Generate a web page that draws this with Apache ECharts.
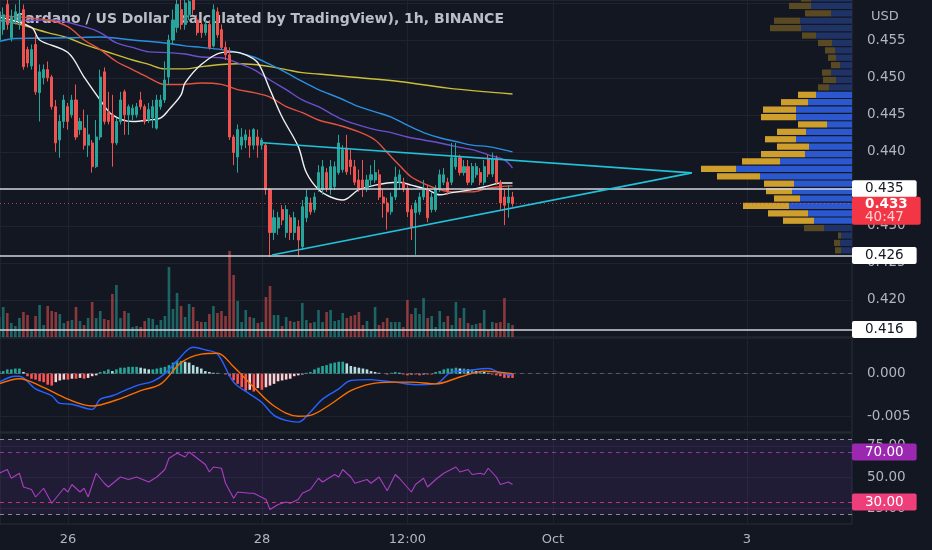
<!DOCTYPE html>
<html>
<head>
<meta charset="utf-8">
<title>ADAUSD 1h</title>
<script src="https://cdn.jsdelivr.net/npm/echarts@6/dist/echarts.min.js"></script>
<style>
    html, body { margin: 0; padding: 0; background: #131722; }
    #chart { width: 932px; height: 550px; }
</style>
</head>
<body>
<div id="chart"></div>
<script>
    //x is hours from 26 Sep 00:00
    var timeTicks = [0, 48, 84, 120, 168];
    var timeLabels = ['26', '28', '12:00', 'Oct', '3'];

    //[hour, open, close, low, high]
    var candles = [
        [-17, 0.4551, 0.4589, 0.4545, 0.4599], [-16, 0.4565, 0.4585, 0.4558, 0.4595], [-15, 0.4599, 0.4572, 0.4565, 0.4605],
        [-14, 0.4554, 0.4582, 0.4549, 0.4592], [-13, 0.4578, 0.4589, 0.4572, 0.4599], [-12, 0.4576, 0.4585, 0.4565, 0.4605],
        [-11, 0.4592, 0.4515, 0.4511, 0.4599], [-10, 0.4538, 0.4520, 0.4514, 0.4542], [-9, 0.4516, 0.4538, 0.4511, 0.4545],
        [-8, 0.4545, 0.4481, 0.4477, 0.4558], [-7, 0.4480, 0.4508, 0.4441, 0.4518], [-6, 0.4500, 0.4511, 0.4491, 0.4518],
        [-5, 0.4511, 0.4500, 0.4495, 0.4522], [-4, 0.4501, 0.4461, 0.4457, 0.4504], [-3, 0.4461, 0.4412, 0.4400, 0.4470],
        [-2, 0.4416, 0.4441, 0.4392, 0.4450], [-1, 0.4441, 0.4470, 0.4432, 0.4477], [0, 0.4461, 0.4441, 0.4430, 0.4466],
        [1, 0.4450, 0.4470, 0.4446, 0.4477], [2, 0.4470, 0.4420, 0.4416, 0.4491], [3, 0.4430, 0.4441, 0.4423, 0.4446],
        [4, 0.4432, 0.4409, 0.4403, 0.4457], [5, 0.4409, 0.4423, 0.4393, 0.4450], [6, 0.4412, 0.4380, 0.4372, 0.4416],
        [7, 0.4380, 0.4420, 0.4378, 0.4443], [8, 0.4420, 0.4501, 0.4416, 0.4511], [9, 0.4508, 0.4441, 0.4437, 0.4514],
        [10, 0.4453, 0.4441, 0.4437, 0.4481], [11, 0.4450, 0.4412, 0.4380, 0.4477], [12, 0.4412, 0.4441, 0.4409, 0.4446],
        [13, 0.4441, 0.4470, 0.4437, 0.4481], [14, 0.4481, 0.4450, 0.4423, 0.4484], [15, 0.4450, 0.4461, 0.4423, 0.4464],
        [16, 0.4450, 0.4459, 0.4443, 0.4464], [17, 0.4450, 0.4461, 0.4446, 0.4466], [18, 0.4470, 0.4461, 0.4457, 0.4481],
        [19, 0.4461, 0.4441, 0.4437, 0.4464], [20, 0.4443, 0.4457, 0.4439, 0.4466], [21, 0.4446, 0.4461, 0.4432, 0.4470],
        [22, 0.4432, 0.4470, 0.4430, 0.4477], [23, 0.4461, 0.4470, 0.4457, 0.4477], [24, 0.4470, 0.4497, 0.4466, 0.4522],
        [25, 0.4501, 0.4551, 0.4491, 0.4558], [26, 0.4551, 0.4578, 0.4545, 0.4592], [27, 0.4568, 0.4599, 0.4561, 0.4605],
        [28, 0.4592, 0.4572, 0.4565, 0.4612], [29, 0.4572, 0.4601, 0.4565, 0.4615], [30, 0.4585, 0.4603, 0.4578, 0.4618],
        [31, 0.4605, 0.4592, 0.4585, 0.4620], [32, 0.4578, 0.4561, 0.4557, 0.4585], [33, 0.4572, 0.4561, 0.4554, 0.4578],
        [34, 0.4561, 0.4572, 0.4557, 0.4578], [35, 0.4572, 0.4541, 0.4538, 0.4578], [36, 0.4543, 0.4592, 0.4541, 0.4599],
        [37, 0.4589, 0.4558, 0.4554, 0.4595], [38, 0.4565, 0.4541, 0.4538, 0.4572], [39, 0.4541, 0.4531, 0.4524, 0.4549],
        [40, 0.4531, 0.4420, 0.4416, 0.4541], [41, 0.4420, 0.4399, 0.4382, 0.4423], [42, 0.4393, 0.4430, 0.4372, 0.4437],
        [43, 0.4409, 0.4420, 0.4403, 0.4432], [44, 0.4416, 0.4423, 0.4405, 0.4430], [45, 0.4420, 0.4409, 0.4392, 0.4430],
        [46, 0.4409, 0.4430, 0.4403, 0.4432], [47, 0.4420, 0.4409, 0.4392, 0.4430], [48, 0.4409, 0.4416, 0.4403, 0.4419],
        [49, 0.4409, 0.4349, 0.4342, 0.4412], [50, 0.4349, 0.4291, 0.4258, 0.4351], [51, 0.4291, 0.4311, 0.4281, 0.4322],
        [52, 0.4297, 0.4311, 0.4288, 0.4319], [53, 0.4322, 0.4308, 0.4301, 0.4328], [54, 0.4291, 0.4322, 0.4284, 0.4328],
        [55, 0.4311, 0.4291, 0.4281, 0.4315], [56, 0.4291, 0.4311, 0.4281, 0.4319], [57, 0.4299, 0.4281, 0.4258, 0.4308],
        [58, 0.4272, 0.4326, 0.4268, 0.4335], [59, 0.4311, 0.4339, 0.4305, 0.4349], [60, 0.4331, 0.4319, 0.4315, 0.4338],
        [61, 0.4322, 0.4339, 0.4318, 0.4345], [62, 0.4351, 0.4372, 0.4346, 0.4382], [63, 0.4349, 0.4380, 0.4342, 0.4389],
        [64, 0.4372, 0.4351, 0.4346, 0.4378], [65, 0.4351, 0.4380, 0.4342, 0.4389], [66, 0.4353, 0.4380, 0.4349, 0.4387],
        [67, 0.4372, 0.4412, 0.4369, 0.4423], [68, 0.4376, 0.4403, 0.4372, 0.4409], [69, 0.4405, 0.4373, 0.4369, 0.4423],
        [70, 0.4389, 0.4380, 0.4369, 0.4403], [71, 0.4380, 0.4359, 0.4355, 0.4389], [72, 0.4362, 0.4351, 0.4346, 0.4376],
        [73, 0.4362, 0.4351, 0.4339, 0.4389], [74, 0.4351, 0.4362, 0.4346, 0.4369], [75, 0.4362, 0.4369, 0.4355, 0.4382],
        [76, 0.4362, 0.4372, 0.4358, 0.4389], [77, 0.4369, 0.4339, 0.4335, 0.4376], [78, 0.4339, 0.4331, 0.4311, 0.4349],
        [79, 0.4331, 0.4319, 0.4295, 0.4338], [80, 0.4319, 0.4339, 0.4315, 0.4345], [81, 0.4339, 0.4366, 0.4335, 0.4380],
        [82, 0.4359, 0.4369, 0.4349, 0.4376], [83, 0.4359, 0.4351, 0.4346, 0.4365], [84, 0.4351, 0.4319, 0.4312, 0.4355],
        [85, 0.4322, 0.4299, 0.4281, 0.4328], [86, 0.4318, 0.4331, 0.4261, 0.4335], [87, 0.4319, 0.4339, 0.4315, 0.4345],
        [88, 0.4339, 0.4351, 0.4335, 0.4362], [89, 0.4349, 0.4311, 0.4305, 0.4355], [90, 0.4322, 0.4339, 0.4318, 0.4346],
        [91, 0.4322, 0.4351, 0.4319, 0.4355], [92, 0.4351, 0.4369, 0.4346, 0.4376], [93, 0.4359, 0.4369, 0.4355, 0.4378],
        [94, 0.4359, 0.4346, 0.4342, 0.4365], [95, 0.4359, 0.4392, 0.4355, 0.4412], [96, 0.4380, 0.4392, 0.4376, 0.4412],
        [97, 0.4392, 0.4372, 0.4368, 0.4396], [98, 0.4372, 0.4380, 0.4368, 0.4389], [99, 0.4380, 0.4359, 0.4355, 0.4389],
        [100, 0.4359, 0.4380, 0.4355, 0.4385], [101, 0.4369, 0.4380, 0.4365, 0.4385], [102, 0.4372, 0.4359, 0.4355, 0.4378],
        [103, 0.4359, 0.4380, 0.4355, 0.4389], [104, 0.4391, 0.4370, 0.4366, 0.4396], [105, 0.4370, 0.4391, 0.4366, 0.4399],
        [106, 0.4391, 0.4359, 0.4355, 0.4395], [107, 0.4359, 0.4331, 0.4322, 0.4362], [108, 0.4339, 0.4328, 0.4301, 0.4349],
        [109, 0.4331, 0.4339, 0.4311, 0.4355], [110, 0.4339, 0.4330, 0.4326, 0.4346]
    ];

    //volume per candle, 100k ADA
    var volume = [
        20, 30, 24, 14, 11, 19, 25, 22, 8, 21, 32, 12, 31, 26, 25, 23, 14, 16, 17, 30, 16,
        12, 19, 35, 19, 26, 18, 17, 43, 52, 19, 26, 24, 10, 11, 10, 16, 19, 18, 12, 17,
        21, 70, 28, 44, 31, 20, 33, 30, 16, 15, 15, 23, 31, 24, 26, 21, 86, 62, 36, 15,
        27, 20, 19, 14, 15, 40, 51, 22, 22, 11, 20, 16, 15, 16, 34, 17, 14, 15, 27, 15,
        25, 27, 16, 17, 24, 19, 21, 22, 25, 12, 16, 7, 30, 12, 15, 19, 15, 15, 15, 10,
        37, 23, 29, 23, 39, 19, 21, 10, 26, 15, 21, 12, 35, 19, 29, 14, 12, 13, 14, 27,
        7, 15, 14, 15, 39, 14, 12
    ];

    //moving averages, [hour, price]
    var maFast = [[-17, 0.4582], [-9, 0.4568], [-7, 0.4551], [0, 0.4534], [4, 0.4501], [8, 0.4470], [11, 0.4450],
        [16, 0.4441], [20, 0.4443], [23, 0.4446], [25, 0.4457], [28, 0.4477], [29, 0.4493], [33, 0.4518], [38, 0.4534],
        [41, 0.4535], [44, 0.4531], [47, 0.4520], [50, 0.4484], [53, 0.4447], [57, 0.4407], [59, 0.4372], [62, 0.4349],
        [65, 0.4339], [68, 0.4335], [72, 0.4349], [76, 0.4355], [79, 0.4358], [82, 0.4359], [85, 0.4355], [89, 0.4349],
        [92, 0.4342], [95, 0.4345], [100, 0.4349], [104, 0.4354], [107, 0.4358], [110, 0.4358]];
    var maRed = [[-17, 0.4584], [-5, 0.4578], [0, 0.4569], [4, 0.4551], [8, 0.4538], [12, 0.4522], [16, 0.4511],
        [20, 0.4500], [24, 0.4491], [28, 0.4491], [33, 0.4493], [38, 0.4491], [42, 0.4484], [46, 0.4480], [50, 0.4474],
        [54, 0.4461], [58, 0.4453], [62, 0.4443], [67, 0.4436], [72, 0.4427], [76, 0.4416], [79, 0.4399], [82, 0.4382],
        [85, 0.4366], [89, 0.4355], [92, 0.4349], [95, 0.4346], [100, 0.4346], [104, 0.4351], [107, 0.4353], [110, 0.4354]];
    var maPurple = [[-17, 0.4576], [-4, 0.4578], [4, 0.4569], [8, 0.4561], [12, 0.4547], [16, 0.4541], [20, 0.4535],
        [25, 0.4534], [29, 0.4532], [33, 0.4528], [38, 0.4527], [42, 0.4520], [46, 0.4511], [50, 0.4497], [54, 0.4484],
        [58, 0.4470], [62, 0.4461], [67, 0.4446], [72, 0.4436], [76, 0.4430], [80, 0.4426], [84, 0.4420], [88, 0.4416],
        [92, 0.4412], [96, 0.4407], [100, 0.4403], [104, 0.4396], [108, 0.4389], [110, 0.4378]];
    var maBlue = [[-17, 0.4549], [-13, 0.4553], [0, 0.4554], [8, 0.4555], [16, 0.4551], [24, 0.4547], [29, 0.4543],
        [33, 0.4541], [38, 0.4538], [42, 0.4534], [46, 0.4528], [50, 0.4518], [54, 0.4507], [58, 0.4495], [62, 0.4484],
        [67, 0.4473], [72, 0.4461], [76, 0.4454], [80, 0.4447], [84, 0.4436], [88, 0.4426], [92, 0.4419], [96, 0.4414],
        [100, 0.4409], [104, 0.4407], [110, 0.4400]];
    var maYellow = [[-17, 0.4578], [-12, 0.4572], [-5, 0.4561], [0, 0.4554], [4, 0.4545], [8, 0.4538], [12, 0.4531],
        [16, 0.4524], [20, 0.4518], [24, 0.4512], [29, 0.4512], [33, 0.4515], [38, 0.4518], [42, 0.4519], [46, 0.4518],
        [50, 0.4515], [54, 0.4511], [58, 0.4507], [62, 0.4505], [70, 0.4501], [82, 0.4495], [94, 0.4486], [110, 0.4478]];

    //triangle drawing: upper start, apex, lower start
    var triangle = [[48.2, 0.44122], [154.4, 0.43716], [50.5, 0.42608]];

    //price levels
    var levels = [0.435, 0.426, 0.416];
    var lastPrice = 0.433;
    var countdown = '40:47';

    //visible range volume profile, rows of 0.001
    var profilePrice = [0.4607, 0.4597, 0.4587, 0.4577, 0.4567, 0.4557, 0.4547, 0.4537, 0.4527, 0.4517, 0.4507,
        0.4497, 0.4487, 0.4477, 0.4467, 0.4457, 0.4447, 0.4437, 0.4427, 0.4417, 0.4407, 0.4397, 0.4387, 0.4377,
        0.4367, 0.4357, 0.4347, 0.4337, 0.4327, 0.4317, 0.4307, 0.4297, 0.4287, 0.4277, 0.4267];
    var profileUp = [4.1, 4.1, 2.1, 5.2, 5.1, 3.6, 2.0, 1.7, 1.6, 1.2, 2.1, 1.6, 2.3, 3.6, 4.4, 5.6, 5.6, 2.5,
        4.6, 5.6, 4.3, 4.7, 7.2, 11.6, 9.2, 5.8, 6.0, 5.2, 6.3, 4.4, 3.8, 2.8, 1.1, 1.2, 1.1];
    var profileDown = [1.0, 2.2, 2.6, 2.6, 3.1, 1.4, 1.4, 1.0, 0.8, 0.9, 0.9, 1.3, 1.1, 1.8, 2.7, 3.3, 3.5, 2.9,
        2.9, 3.1, 3.2, 4.4, 3.8, 3.5, 4.3, 3.0, 2.6, 2.6, 4.6, 4.0, 3.1, 2.0, 0.3, 0.6, 0.6];
    var valueAreaHigh = 0.4480, valueAreaLow = 0.4302;

    //MACD, [hour, value]
    var macdLine = [[-17, -0.0010], [-13, -0.0003], [-12, -0.0003], [-8, -0.0018], [-4, -0.0026], [-2, -0.0035],
        [1, -0.0036], [6, -0.0042], [8, -0.0030], [11, -0.0026], [17, -0.0014], [21, -0.0009], [24, 0.0000],
        [27, 0.0015], [31, 0.0031], [34, 0.0028], [37, 0.0023], [41, -0.0010], [45, -0.0024], [48, -0.0034],
        [51, -0.0049], [54, -0.0055], [57, -0.0057], [60, -0.0045], [63, -0.0030], [67, -0.0018], [70, -0.0008],
        [75, -0.0007], [77, -0.0008], [81, -0.0010], [86, -0.0013], [91, -0.0012], [95, 0.0002], [98, 0.0003],
        [104, 0.0006], [107, 0.0001], [110, -0.0002]];
    var signalLine = [[-17, -0.0012], [-12, -0.0006], [-7, -0.0014], [0, -0.0030], [6, -0.0038], [12, -0.0031],
        [18, -0.0020], [23, -0.0012], [28, 0.0013], [33, 0.0023], [37, 0.0024], [41, 0.0008], [46, -0.0016],
        [51, -0.0038], [57, -0.0050], [60, -0.0049], [65, -0.0036], [70, -0.0020], [75, -0.0012], [80, -0.0010],
        [85, -0.0010], [91, -0.0012], [97, -0.0004], [103, 0.0003], [110, 0.0000]];
    //histogram per candle, units of 0.0001
    var macdHist = [
        3, 3, 5, 5, 6, 6, 2, -3, -6, -7, -9, -10, -13, -14, -10, -8, -7,
        -7, -6, -6, -5, -6, -5, -3, -2, 2,
        3, 5, 3, 5, 7, 7, 8, 8, 8, 7, 6, 5, 5, 6, 7, 8,
        10, 13, 15, 15, 14, 13, 10, 8, 6, 3, 2, 1, 1, 0, -1, -3,
        -8, -12, -16, -20, -19, -21, -17, -19, -16, -14, -12, -9, -8, -7, -6, -3, -2,
        -1, 1, 2, 5, 7, 9, 10, 12, 13, 14, 14, 12, 9, 8, 7, 6, 5, 3,
        2, 1, 0, -1, 1, 2, 1, -1, -2, -1, -1, -2, -1, -1, -1,
        2, 3, 5, 6, 6, 7, 6, 6, 5, 5, 3, 3, 2, 1, -1, -2, -3, -5, -5, -5
    ];

    //RSI, [hour, value]
    var rsi = [[-17, 53], [-15, 56], [-14, 49], [-12, 53], [-11, 42], [-9, 40], [-8, 34], [-6, 41], [-4, 29], [-1, 41],
        [0, 38], [1, 44], [3, 38], [4, 41], [5, 34], [7, 53], [9, 45], [10, 42], [13, 50], [15, 48], [17, 50],
        [20, 46], [22, 50], [24, 56], [25, 65], [27, 69], [29, 66], [30, 70], [32, 65], [34, 60], [35, 54], [36, 58],
        [38, 57], [39, 45], [41, 33], [42, 38], [45, 37], [46, 37], [49, 32], [50, 24], [52, 28], [54, 30], [55, 29],
        [57, 32], [58, 37], [60, 40], [62, 49], [63, 46], [66, 52], [67, 50], [68, 56], [70, 50], [71, 45], [74, 48],
        [75, 45], [77, 50], [79, 39], [81, 52], [82, 49], [85, 38], [86, 44], [88, 49], [89, 42], [91, 48], [93, 53],
        [96, 58], [97, 54], [99, 56], [100, 52], [102, 53], [103, 52], [104, 57], [106, 50], [107, 44], [109, 46], [110, 44]];

    var FONT = 'DejaVu Sans';
    var TEXT = '#b2b5be';
    var GRID = '#1f2330';
    var UP = '#26a69a', DOWN = '#ef5350';
    var X_MIN = -16.8, X_MAX = 194;

    function timeAxis(gridIndex, showLabels) {
        return {
            type: 'value', gridIndex: gridIndex, min: X_MIN, max: X_MAX,
            axisLine: {show: false},
            axisTick: {show: false, customValues: timeTicks},
            axisLabel: {
                show: showLabels, customValues: timeTicks, color: TEXT, fontFamily: FONT, fontSize: 13, margin: 9,
                formatter: function (v) {
                    var i = timeTicks.indexOf(Math.round(v));
                    return i >= 0 ? timeLabels[i] : '';
                }
            },
            splitLine: {show: true, lineStyle: {color: GRID, width: 1}}
        };
    }

    function boxLabel(text, bg, fg) {
        return {
            show: true, position: 'end', distance: 0, formatter: text,
            backgroundColor: bg, color: fg, fontFamily: FONT, fontSize: 13.5,
            padding: [2, 13, 1, 13], borderRadius: 2
        };
    }

    function levelLine(value) {
        return {
            yAxis: value, lineStyle: {color: '#d1d4dc', width: 1.5, type: 'solid'},
            label: boxLabel(value.toFixed(3), '#ffffff', '#131722')
        };
    }

    var candleData = candles.map(function (c) { return [c[0], c[1], c[2], c[3], c[4]]; });
    var volData = candles.map(function (c, i) {
        return {value: [c[0], volume[i]], itemStyle: {color: c[2] >= c[1] ? 'rgba(38,166,154,0.55)' : 'rgba(239,83,80,0.55)'}};
    });
    var histData = candles.map(function (c, i) {
        var v = macdHist[i], prev = i > 0 ? macdHist[i - 1] : 0, color;
        if (v >= 0) {
            color = v >= prev ? '#26a69a' : '#b2dfdb';
        } else {
            color = v <= prev ? '#ff5252' : '#ffcdd2';
        }
        return {value: [c[0], v / 10000], itemStyle: {color: color}};
    });
    var profileData = profilePrice.map(function (p, i) {
        var dim = (p > valueAreaHigh || p < valueAreaLow) ? 1 : 0;
        return [profileUp[i], p, profileDown[i], dim];
    });

    function maSeries(data, color) {
        return {
            type: 'line', xAxisIndex: 0, yAxisIndex: 0, data: data, showSymbol: false, smooth: 0.35,
            lineStyle: {color: color, width: 1.4}, z: 3, silent: true
        };
    }

    var myChart = echarts.init(document.getElementById('chart'));
    var option = {
        backgroundColor: '#131722',
        animation: false,
        title: [{
            text: 'Cardano / US Dollar (calculated by TradingView), 1h, BINANCE',
            left: 10, top: 7, z: 0,
            textStyle: {color: 'rgba(215,218,226,0.85)', fontFamily: FONT, fontSize: 14, fontWeight: 'bold'}
        }, {
            text: 'USD', left: 866, top: 5,
            textStyle: {color: TEXT, fontFamily: FONT, fontSize: 13, fontWeight: 'normal'}
        }],
        grid: [
            {left: 0, right: 80, top: 0, height: 337, show: true, borderColor: '#2a2e39', backgroundColor: 'transparent'},
            {left: 0, right: 80, top: 338, height: 94, show: true, borderColor: '#2a2e39', backgroundColor: 'transparent'},
            {left: 0, right: 80, top: 433, height: 91, show: true, borderColor: '#2a2e39', backgroundColor: 'transparent'}
        ],
        xAxis: [
            timeAxis(0, false),
            {type: 'value', gridIndex: 0, inverse: true, min: 0, max: 85.2, show: false, splitLine: {show: false}},
            timeAxis(1, false),
            timeAxis(2, true)
        ],
        yAxis: [{
            type: 'value', gridIndex: 0, position: 'right', min: 0.415, max: 0.4605, interval: 0.005,
            axisLine: {show: false}, axisTick: {show: false},
            axisLabel: {
                color: TEXT, fontFamily: FONT, fontSize: 13.5, margin: 15,
                formatter: function (v) { return (v > 0.458 || v < 0.419) ? '' : v.toFixed(3); }
            },
            splitLine: {lineStyle: {color: GRID}}
        }, {
            type: 'value', gridIndex: 0, min: 0, max: 337, show: false
        }, {
            type: 'value', gridIndex: 1, position: 'right', min: -0.00686, max: 0.00419,
            axisLine: {show: false}, axisTick: {show: false, customValues: [-0.005, 0]},
            axisLabel: {
                customValues: [-0.005, 0], color: TEXT, fontFamily: FONT, fontSize: 13.5, margin: 15,
                formatter: function (v) { return v.toFixed(3); }
            },
            splitLine: {lineStyle: {color: GRID}}
        }, {
            type: 'value', gridIndex: 2, position: 'right', min: 12.4, max: 85.2,
            axisLine: {show: false}, axisTick: {show: false, customValues: [25, 50, 75]},
            axisLabel: {
                customValues: [25, 50, 75], color: TEXT, fontFamily: FONT, fontSize: 13.5, margin: 15,
                formatter: function (v) { return v.toFixed(2); }
            },
            splitLine: {lineStyle: {color: GRID}}
        }],
        series: [{
            name: 'Volume', type: 'bar', xAxisIndex: 0, yAxisIndex: 1, data: volData, barWidth: 2.6, z: 1, silent: true
        }, {
            name: 'VPVR', type: 'custom', xAxisIndex: 1, yAxisIndex: 0, data: profileData, z: 2, silent: true,
            encode: {x: 0, y: 1},
            renderItem: function (params, api) {
                var up = api.value(0), price = api.value(1), down = api.value(2), dim = api.value(3);
                var base = api.coord([0, price]);
                var pUp = api.coord([up, price]);
                var pAll = api.coord([up + down, price]);
                var h = api.size([0, 0.001])[1] - 1.2;
                return {
                    type: 'group', children: [{
                        type: 'rect', shape: {x: pUp[0], y: base[1] - h / 2, width: base[0] - pUp[0], height: h},
                        style: {fill: dim ? '#1f3366' : '#2b58cf'}
                    }, {
                        type: 'rect', shape: {x: pAll[0], y: base[1] - h / 2, width: pUp[0] - pAll[0], height: h},
                        style: {fill: dim ? '#5a4a24' : '#cf9f2e'}
                    }]
                };
            }
        },
            maSeries(maYellow, '#cbbd36'),
            maSeries(maBlue, '#2a8fe0'),
            maSeries(maPurple, '#6c4fcf'),
            maSeries(maRed, '#e2523f'),
            maSeries(maFast, '#f0f0f0'),
        {
            name: 'Triangle', type: 'line', xAxisIndex: 0, yAxisIndex: 0, data: triangle, showSymbol: false,
            lineStyle: {color: '#22c1d8', width: 1.6}, z: 5, silent: true,
            markLine: {
                symbol: 'none', silent: true, animation: false, precision: 4,
                data: [
                    levelLine(levels[0]),
                    levelLine(levels[1]),
                    levelLine(levels[2]),
                    {
                        yAxis: lastPrice, lineStyle: {color: 'rgba(239,83,80,0.75)', width: 1, type: [1, 3]},
                        label: {
                            show: true, position: 'end', distance: 0, offset: [0, 7],
                            formatter: '{a|' + lastPrice.toFixed(3) + '}\n{b|' + countdown + '}',
                            backgroundColor: '#f23645', padding: [1, 13, 0, 13], borderRadius: 2,
                            rich: {
                                a: {color: '#ffffff', fontFamily: FONT, fontSize: 13.5, fontWeight: 'bold', lineHeight: 13},
                                b: {color: '#ffd3d3', fontFamily: FONT, fontSize: 13.5, lineHeight: 14}
                            }
                        }
                    }
                ]
            }
        }, {
            name: 'ADAUSD', type: 'candlestick', xAxisIndex: 0, yAxisIndex: 0, data: candleData,
            encode: {x: 0, y: [1, 2, 3, 4]}, barWidth: 2.6, z: 4, silent: true,
            itemStyle: {color: UP, color0: DOWN, borderColor: UP, borderColor0: DOWN, borderWidth: 1}
        }, {
            name: 'Histogram', type: 'bar', xAxisIndex: 2, yAxisIndex: 2, data: histData, barWidth: 2.6, silent: true,
            markLine: {
                symbol: 'none', silent: true, label: {show: false}, precision: 4,
                data: [{yAxis: 0, lineStyle: {color: 'rgba(120,123,134,0.6)', type: [4, 4], width: 1}}]
            }
        }, {
            name: 'MACD', type: 'line', xAxisIndex: 2, yAxisIndex: 2, data: macdLine, showSymbol: false, smooth: 0.35,
            lineStyle: {color: '#2962ff', width: 1.4}, z: 3, silent: true
        }, {
            name: 'Signal', type: 'line', xAxisIndex: 2, yAxisIndex: 2, data: signalLine, showSymbol: false, smooth: 0.35,
            lineStyle: {color: '#ff6d00', width: 1.4}, z: 3, silent: true
        }, {
            name: 'RSI', type: 'line', xAxisIndex: 3, yAxisIndex: 3, data: rsi, showSymbol: false,
            lineStyle: {color: '#a93ec0', width: 1.1}, z: 3, silent: true,
            markArea: {
                silent: true, itemStyle: {color: 'rgba(126,60,190,0.13)'},
                data: [[{yAxis: 80}, {yAxis: 20}]]
            },
            markLine: {
                symbol: 'none', silent: true,
                data: [
                    {yAxis: 80, lineStyle: {color: 'rgba(210,212,220,0.6)', type: [4, 4], width: 1}, label: {show: false}},
                    {yAxis: 20, lineStyle: {color: 'rgba(210,212,220,0.6)', type: [4, 4], width: 1}, label: {show: false}},
                    {yAxis: 70, lineStyle: {color: 'rgba(170,60,190,0.8)', type: [4, 4], width: 1}, label: boxLabel('70.00', '#9c27b0', '#ffffff')},
                    {yAxis: 30, lineStyle: {color: 'rgba(233,60,120,0.8)', type: [4, 4], width: 1}, label: boxLabel('30.00', '#ef3f7a', '#ffffff')}
                ]
            }
        }]
    };
    myChart.setOption(option);
</script>
</body>
</html>
